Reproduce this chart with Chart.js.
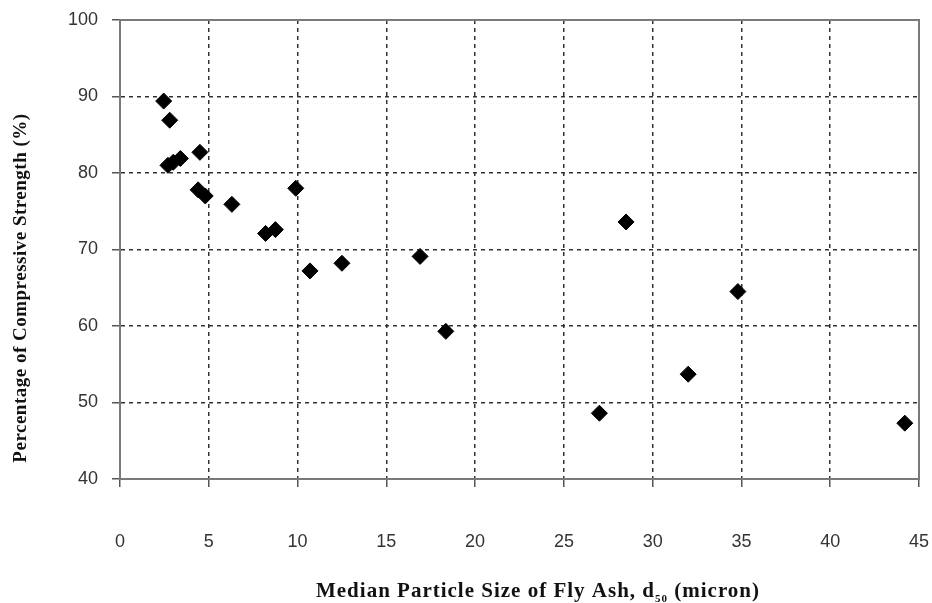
<!DOCTYPE html>
<html>
<head>
<meta charset="utf-8">
<script src="https://cdn.jsdelivr.net/npm/chart.js@4.4.1/dist/chart.umd.min.js"></script>
<style>
    html, body { margin: 0; padding: 0; background: #fff; }
    #wrap { width: 932px; height: 603px; }
</style>
</head>
<body>
<div id="wrap"><canvas id="chart"></canvas></div>
<script>
// median particle size d50 (micron) vs. % of compressive strength
const particleSize = [2.46, 2.8, 2.7, 3.0, 3.4, 4.5, 4.4, 4.8, 6.3, 8.2, 8.75, 9.9, 10.7, 12.5, 16.9, 18.35, 27.0, 28.5, 32.0, 34.8, 44.2];
const strength     = [89.4, 86.9, 81.0, 81.4, 81.9, 82.7, 77.8, 77.0, 75.9, 72.1, 72.6, 78.0, 67.2, 68.2, 69.1, 59.3, 48.6, 73.6, 53.7, 64.5, 47.3];

const xTicks = [0, 5, 10, 15, 20, 25, 30, 35, 40, 45];
const yTicks = [40, 50, 60, 70, 80, 90, 100];

const xTitle = ["Median Particle Size of Fly Ash, d", "50", " (micron)"];
const yTitle = "Percentage of Compressive Strength (%)";

document.addEventListener("DOMContentLoaded", () => {
    const ctx = document.getElementById("chart").getContext("2d");

    // frame round the plot area + axis titles (x title has a subscript)
    const framePlugin = {
        id: "frame",
        afterDraw(chart) {
            const { ctx, chartArea: a } = chart;
            ctx.save();
            ctx.strokeStyle = "#7a7a7a";
            ctx.lineWidth = 2;
            ctx.strokeRect(a.left, a.top, a.right - a.left, a.bottom - a.top);

            // x title
            ctx.fillStyle = "#111";
            ctx.textBaseline = "alphabetic";
            ctx.letterSpacing = "1px";
            const big = "bold 21px 'Liberation Serif', serif";
            const small = "bold 11px 'Liberation Serif', serif";
            ctx.font = big;
            const w1 = ctx.measureText(xTitle[0]).width;
            const w3 = ctx.measureText(xTitle[2]).width;
            ctx.font = small;
            const w2 = ctx.measureText(xTitle[1]).width;
            let x = 538 - (w1 + w2 + w3) / 2;
            const yBase = 597;
            ctx.font = big;
            ctx.fillText(xTitle[0], x, yBase);
            x += w1;
            ctx.font = small;
            ctx.fillText(xTitle[1], x, yBase + 5);
            x += w2;
            ctx.font = big;
            ctx.fillText(xTitle[2], x, yBase);

            // y title
            ctx.letterSpacing = "0.5px";
            ctx.translate(26, 288);
            ctx.rotate(-Math.PI / 2);
            ctx.font = "bold 19px 'Liberation Serif', serif";
            ctx.textAlign = "center";
            ctx.fillText(yTitle, 0, 0);
            ctx.restore();
        }
    };

    const tickFont = { family: "'Liberation Sans', Arial, sans-serif", size: 18 };

    new Chart(ctx, {
        type: "scatter",
        data: {
            datasets: [{
                label: "Strength",
                data: particleSize.map((v, i) => ({ x: v, y: strength[i] })),
                pointStyle: "rectRot",
                pointRadius: 8,
                pointBackgroundColor: "#000",
                pointBorderColor: "#000",
                pointBorderWidth: 1
            }]
        },
        options: {
            responsive: true,
            maintainAspectRatio: false,
            animation: false,
            layout: { padding: { top: 20, right: 13, left: 0, bottom: 0 } },
            plugins: {
                legend: { display: false },
                tooltip: { enabled: false }
            },
            scales: {
                x: {
                    type: "linear",
                    min: xTicks[0],
                    max: xTicks[xTicks.length - 1],
                    afterBuildTicks: (s) => { s.ticks = xTicks.map(v => ({ value: v })); },
                    afterFit: (s) => {
                        s.height = 124;
                        s.paddingLeft = 0;
                        s.paddingRight = 0;
                    },
                    grid: {
                        color: "#333",
                        lineWidth: 1.5,
                        tickLength: 8,
                        tickColor: "#555",
                        tickWidth: 1.5
                    },
                    border: { display: true, color: "#7a7a7a", width: 2, dash: [4, 4] },
                    ticks: { color: "#333", font: tickFont, padding: 44, maxRotation: 0 }
                },
                y: {
                    type: "linear",
                    min: yTicks[0],
                    max: yTicks[yTicks.length - 1],
                    afterBuildTicks: (s) => { s.ticks = yTicks.map(v => ({ value: v })); },
                    afterFit: (s) => {
                        s.width = 120;
                        s.paddingTop = 0;
                        s.paddingBottom = 0;
                    },
                    grid: {
                        color: "#333",
                        lineWidth: 1.5,
                        tickLength: 8,
                        tickColor: "#555",
                        tickWidth: 1.5
                    },
                    border: { display: true, color: "#7a7a7a", width: 2, dash: [4, 4] },
                    ticks: { color: "#333", font: tickFont, padding: 14 }
                }
            }
        },
        plugins: [framePlugin]
    });
});
</script>
</body>
</html>
